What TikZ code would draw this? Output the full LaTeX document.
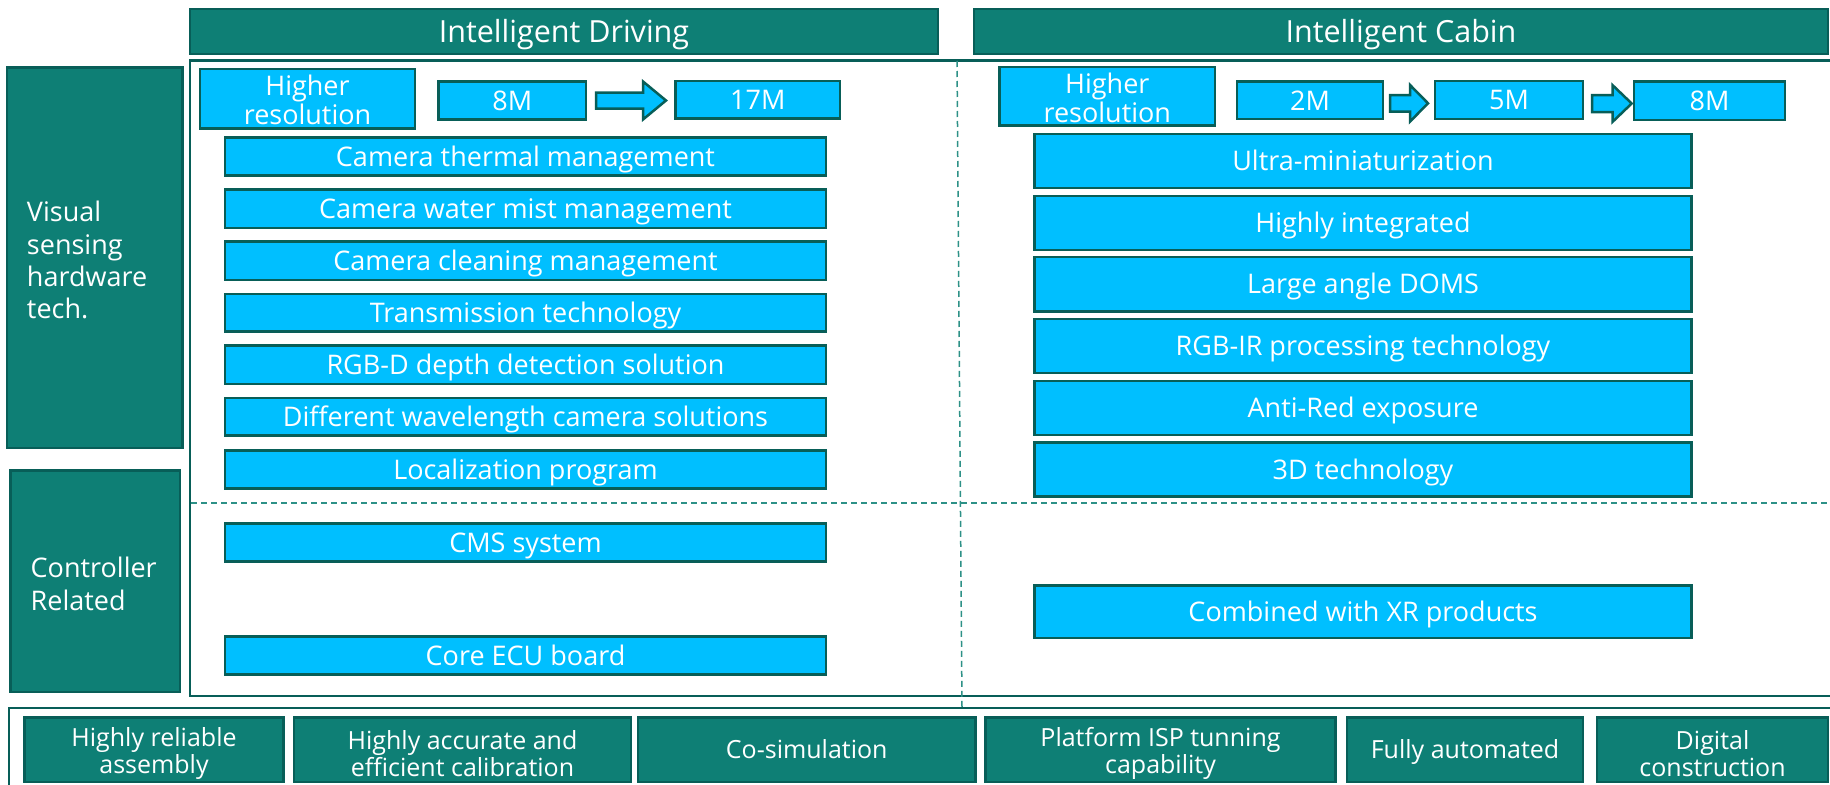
\documentclass[tikz,border=0pt]{standalone}
\usepackage{fontspec}
\setmainfont{Open Sans}
\definecolor{tealfill}{RGB}{14,127,117}
\definecolor{tealdark}{RGB}{8,94,88}
\definecolor{skyblue}{RGB}{0,191,255}
\definecolor{dashteal}{RGB}{45,145,135}
\tikzset{
 base/.style={draw=tealdark, line width=2.5pt, inner sep=0pt, align=center, text=white},
 head/.style={base, fill=tealfill, font=\fontsize{30.5}{33}\selectfont, text height=21.8pt, text depth=0pt},
 side/.style={base, fill=tealfill},
 bluebox/.style={base, fill=skyblue, font=\fontsize{27}{29}\selectfont, text height=19.3pt, text depth=0pt},
 bluebare/.style={base, fill=skyblue},
 foot/.style={base, fill=tealfill, font=\fontsize{25}{27}\selectfont, text height=17.9pt, text depth=0pt},
 footbare/.style={base, fill=tealfill},
 lbl/.style={text=white, inner sep=0pt},
 bluelbl/.style={lbl, align=center, font=\fontsize{27}{29}\selectfont, yshift=-1.2pt},
 footlbl/.style={lbl, align=center, font=\fontsize{25}{27}\selectfont, yshift=-4pt},
 sidelbl/.style={lbl, align=left, font=\fontsize{27}{32.3}\selectfont, yshift=-2.5pt},
 frame/.style={draw=tealdark, line width=2.5pt},
 divider/.style={draw=dashteal, line width=1.5pt, dash pattern=on 6pt off 4pt},
 blockarrow/.style={draw=tealdark, line width=2.5pt, fill=skyblue, line join=miter},
}
\newcommand\bx[7]{\node[#2, minimum width={(#5-#3)*1pt}, minimum height={(#6-#4)*1pt}] (#1) at ({(#3+#5)/2},{(#4+#6)/2}) {#7};}
\newcommand\bxm[8]{\node[#2, minimum width={(#6-#4)*1pt}, minimum height={(#7-#5)*1pt}, label={[#3]center:{#8}}] (#1) at ({(#4+#6)/2},{(#5+#7)/2}) {};}
\newcommand\barrow[6]{\draw[blockarrow] ({#1},{#4-#5}) -- ({#3},{#4-#5}) -- ({#3},{#4-#6}) -- ({#2},{#4}) -- ({#3},{#4+#6}) -- ({#3},{#4+#5}) -- ({#1},{#4+#5}) -- cycle;}
\begin{document}
\begin{tikzpicture}[x=1pt,y=-1pt]
\useasboundingbox[fill=white] (0,0) rectangle (1830,784);
\clip (0,0) rectangle (1830,784);
% headers
\bx{hd}{head}{190}{9}{938}{54}{Intelligent Driving}
\bx{hc}{head}{974}{9}{1828}{54}{Intelligent Cabin}
% frames
\draw[frame] (190,60.5) rectangle (1845,696);
\draw[frame] (9,708) rectangle (1845,800);
\draw[divider] (957,61) -- (962,708);
\draw[divider] (191,503) -- (1830,503);
% side labels
\bxm{vis}{side}{sidelbl, text width=135.6pt}{7}{67.7}{182.6}{448}{Visual\\sensing\\hardware\\tech.}
\bxm{ctl}{side}{sidelbl, text width=129.3pt}{10.7}{470.7}{180}{692}{Controller\\Related}
% left column
\bxm{hrL}{bluebare}{bluelbl}{200}{69}{415}{128.5}{Higher\\resolution}
\bx{mA}{bluebox}{438.5}{81.7}{586}{119.7}{8M}
\bx{mB}{bluebox}{675.5}{81}{840}{118.5}{17M}
\barrow{596}{666}{643}{100.5}{8}{19}
\bx{l1}{bluebox}{225}{137.3}{826}{175.7}{Camera thermal management}
\bx{l2}{bluebox}{225}{189.3}{826}{228}{Camera water mist management}
\bx{l3}{bluebox}{225}{241.6}{826}{280}{Camera cleaning management}
\bx{l4}{bluebox}{225}{294}{826}{331.5}{Transmission technology}
\bx{l5}{bluebox}{225}{345.5}{826}{384}{RGB-D depth detection solution}
\bx{l6}{bluebox}{225}{398}{826}{435.5}{Different wavelength camera solutions}
\bx{l7}{bluebox}{225}{450.5}{826}{488.5}{Localization program}
\bx{l8}{bluebox}{225}{523.5}{826}{561.5}{CMS system}
\bx{l9}{bluebox}{225}{636.5}{826}{674.5}{Core ECU board}
% right column
\bxm{hrR}{bluebare}{bluelbl}{999.5}{67}{1215}{125.5}{Higher\\resolution}
\bx{mC}{bluebox}{1237}{81.7}{1383}{119}{2M}
\bx{mD}{bluebox}{1435}{81}{1583}{119}{5M}
\bx{mE}{bluebox}{1634}{81.7}{1785}{120}{8M}
\barrow{1390}{1428}{1410}{103.3}{8.3}{18.3}
\barrow{1592}{1631.7}{1612.7}{103.5}{8.5}{18.2}
\bx{r1}{bluebox}{1034.5}{134}{1691.5}{188}{Ultra-miniaturization}
\bx{r2}{bluebox}{1034.5}{196}{1691.5}{250}{Highly integrated}
\bx{r3}{bluebox}{1034.5}{257}{1691.5}{311.5}{Large angle DOMS}
\bx{r4}{bluebox}{1034.5}{319}{1691.5}{373}{RGB-IR processing technology}
\bx{r5}{bluebox}{1034.5}{381}{1691.5}{435}{Anti-Red exposure}
\bx{r6}{bluebox}{1034.5}{442.5}{1691.5}{496.5}{3D technology}
\bx{r7}{bluebox}{1034.5}{585.5}{1691.5}{638}{Combined with XR products}
% bottom row
\bxm{f1}{footbare}{footlbl}{24.5}{717.5}{283.5}{782}{Highly reliable\\assembly}
\bxm{f2}{footbare}{footlbl}{294}{717.5}{631}{782}{Highly accurate and\\efficient calibration}
\bx{f3}{foot}{638}{717.5}{975.5}{782}{Co-simulation}
\bxm{f4}{footbare}{footlbl}{985.5}{717.5}{1335.5}{782}{Platform ISP tunning\\capability}
\bx{f5}{foot}{1347}{717.5}{1583}{782}{Fully automated}
\bxm{f6}{footbare}{footlbl}{1597}{717.5}{1828}{782}{Digital\\construction}
\end{tikzpicture}
\end{document}
